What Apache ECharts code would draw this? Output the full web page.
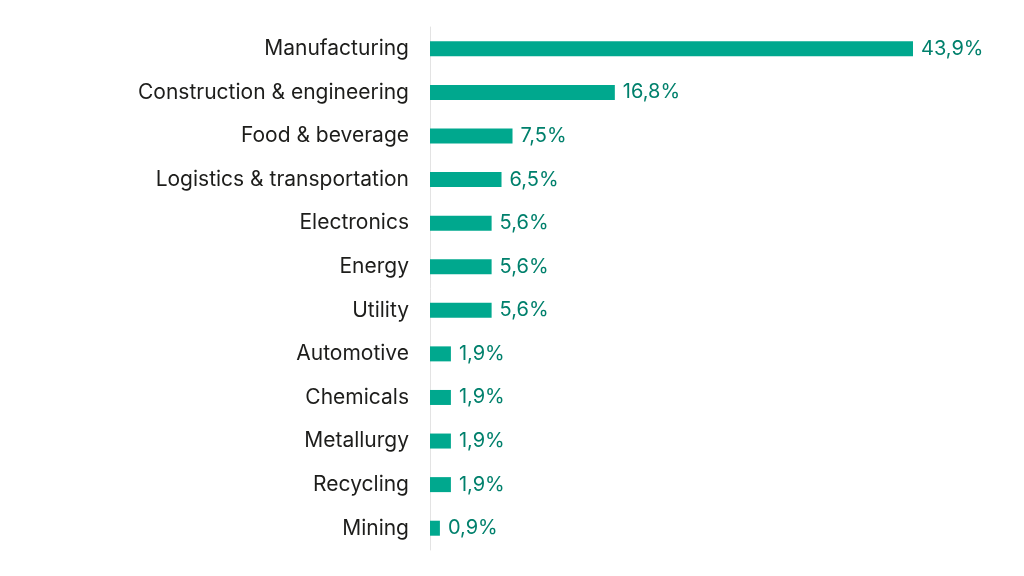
<!DOCTYPE html>
<html><head><meta charset="utf-8">
<script src="https://cdn.jsdelivr.net/npm/echarts@6/dist/echarts.min.js"></script>
<style>html,body{margin:0;padding:0;background:#fff}#c{width:1024px;height:576px}</style>
</head><body><div id="c"></div>
<script>
const categories = ["Manufacturing","Construction & engineering","Food & beverage","Logistics & transportation","Electronics","Energy","Utility","Automotive","Chemicals","Metallurgy","Recycling","Mining"];
const values = [43.9,16.8,7.5,6.5,5.6,5.6,5.6,1.9,1.9,1.9,1.9,0.9];
const chart = echarts.init(document.getElementById('c'));
chart.setOption({
  animation:false,
  textStyle:{fontFamily:'Inter'},
  grid:{left:430,right:111,top:27,bottom:26,containLabel:false},
  xAxis:{type:'value',min:0,max:43.9,show:false},
  yAxis:{type:'category',data:categories,inverse:true,
    axisLine:{show:true,lineStyle:{color:'#e3e3e3',width:1}},
    axisTick:{show:false},
    axisLabel:{color:'#1d1d1b',fontSize:21,margin:21,fontFamily:'Inter',padding:[3,0,0,0]}},
  series:[{type:'bar',data:values,barWidth:15,
    itemStyle:{color:'#00a88e'},
    label:{show:true,position:'right',distance:8,color:'#00806c',fontSize:20,fontFamily:'Inter',padding:[3,0,0,0],
      formatter:p=>p.value.toFixed(1).replace('.',',')+'%'}}]
});
</script></body></html>
